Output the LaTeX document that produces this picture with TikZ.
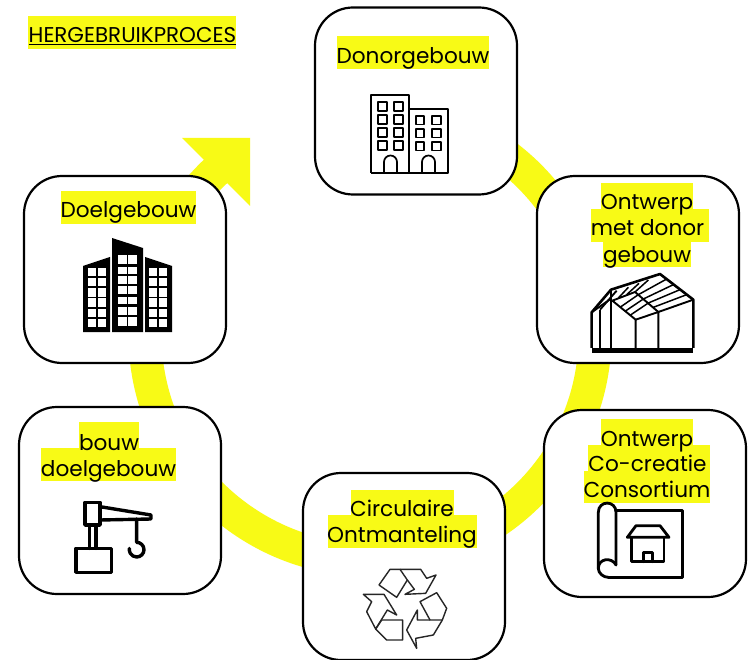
\documentclass[tikz,border=0pt]{standalone}
\usepackage{fontspec}
\setmainfont{Poppins}
\definecolor{hly}{HTML}{F8FA16}
\tikzset{
  stagebox/.style={draw=black,line width=2.2pt,fill=white,rounded corners=38pt,minimum width=202pt,minimum height=187pt,inner sep=0pt},
  lbl/.style={anchor=base,inner sep=0pt,text=black,font=\fontsize{21.6}{25}\selectfont},
  ttl/.style={anchor=base west,inner sep=0pt,text=black,font=\fontsize{21.4}{24}\selectfont},
  icon/.style={line width=1.7pt,draw=black,line join=round},
  iconb/.style={line width=2.8pt,draw=black,line join=round,line cap=round},
  craneb/.style={line width=3.4pt,draw=black,line join=round,line cap=round},
  rec/.style={line width=1.4pt,draw=black!85,line join=round},
}
\newcommand{\hlbar}[4]{\fill[hly] (#1,#2) rectangle (#3,#4);}
\begin{document}
\begin{tikzpicture}[x=1pt,y=-1pt]
\useasboundingbox (0,0) rectangle (752,660);
\fill[white] (0,0) rectangle (752,660);
% ring
\coordinate (ringstart) at (499.05,150.69);
\draw[hly,line width=33pt] (ringstart) arc[start angle=-55,end angle=227,radius=225];
\fill[hly] (182,138) -- (250,138) -- (250,206) -- (227,183) -- (203,159) -- cycle;
% boxes
\node[stagebox] (donor) at (416,101) {};
\node[stagebox] (ontwerpdonor) at (638,269.5) {};
\node[stagebox] (consortium) at (645,503.5) {};
\node[stagebox] (circulair) at (404,566.5) {};
\node[stagebox] (bouw) at (120,500.5) {};
\node[stagebox] (doel) at (125,269.5) {};
% highlights
\hlbar{28}{16}{236}{49}
\hlbar{337}{36}{489}{69}
\hlbar{61}{191}{196}{224}
\hlbar{601}{183}{693}{209}\hlbar{591}{209}{709}{242}\hlbar{603}{242}{691}{267}
\hlbar{601}{419}{693}{445}\hlbar{588}{445}{710}{471}\hlbar{584}{471}{710}{503}
\hlbar{351}{490}{454}{515}\hlbar{328}{515}{477}{548}
\hlbar{79}{422}{139}{448}\hlbar{41}{448}{176}{481}
% text
\node[ttl] (title) at (28.5,43) {\underline{HERGEBRUIKPROCES}};
\node[lbl] (t1) at (413,64) {Donorgebouw};
\node[lbl] (t2) at (128.5,218) {Doelgebouw};
\node[lbl] (t3a) at (647,210) {Ontwerp};
\node[lbl] (t3b) at (647.5,236) {met donor};
\node[lbl] (t3c) at (647,262) {gebouw};
\node[lbl] (t4a) at (647,446.5) {Ontwerp};
\node[lbl] (t4b) at (647.5,471.5) {Co-creatie};
\node[lbl] (t4c) at (647,497.5) {Consortium};
\node[lbl] (t5a) at (402,516.5) {Circulaire};
\node[lbl] (t5b) at (402,542.5) {Ontmanteling};
\node[lbl] (t6a) at (109,450) {bouw};
\node[lbl] (t6b) at (108.5,476) {doelgebouw};
% donor building icon
\begin{scope}[icon]
\draw (371,173) -- (371,95) -- (409,95) -- (409,173);
\draw (409,109) -- (448,109) -- (448,173) -- (371,173);
\foreach \y in {102,115,128,141}{
  \draw (378,\y) rectangle (387,\y+9);
  \draw (394,\y) rectangle (403,\y+9);}
\foreach \y in {116,129,142}{
  \draw (416,\y) rectangle (424,\y+8.5);
  \draw (432,\y) rectangle (441,\y+8.5);}
\draw (384,173) -- (384,162) arc[start angle=180,end angle=360,radius=6.5] -- (397,173);
\draw (422,173) -- (422,162) arc[start angle=180,end angle=360,radius=6.5] -- (435,173);
\end{scope}
% target building icon
\fill[black] (83,266) -- (110,257) -- (110,332) -- (83,332) -- cycle;
\fill[black] (112,238) -- (143,248) -- (143,332) -- (112,332) -- cycle;
\fill[black] (145,257) -- (172,266) -- (172,332) -- (145,332) -- cycle;
\foreach \a/\b in {268/276,278/286,288/297,298/307,309/317,319/327}{
  \fill[white] (88,\a) rectangle (96,\b);
  \fill[white] (98,\a) rectangle (106,\b);
  \fill[white] (149,\a) rectangle (157,\b);
  \fill[white] (159,\a) rectangle (167,\b);}
\foreach \a/\b in {255/264,267/274,276/284,286/294,297/304,307/315,317/326}{
  \fill[white] (118,\a) rectangle (127,\b);
  \fill[white] (128,\a) rectangle (137,\b);}
% greenhouse icon
\begin{scope}[shift={(585,268)},x=0.33333pt,y=-0.33333pt]
\fill[black] (20,240) rectangle (325,255);
\draw[line width=2.6pt,line join=round] (20,240) -- (20,133) -- (78,65) -- (225,18) -- (325,95) -- (325,240);
\draw[line width=2.8pt] (78,65) -- (78,240);
\draw[line width=1.9pt] (45,240) -- (45,125);
\draw[line width=1.9pt] (152,240) -- (152,155) -- (220,132) -- (220,240);
\draw[line width=1.9pt] (220,132) -- (325,95);
\draw[line width=1.9pt] (82,98) -- (152,155);
\draw[line width=1.9pt] (82,98) -- (150,72) -- (220,132);
\draw[line width=1.9pt] (20,133) -- (78,92);
\draw[line width=1.9pt] (45,125) -- (95,68);
\draw[line width=1.5pt] (205,118) -- (305,80) (190,105) -- (285,65) (175,93) -- (265,50) (160,80) -- (245,33);
\draw[line width=1.5pt] (135,142) -- (190,105) (120,130) -- (175,93) (105,118) -- (160,80);
\draw[line width=1.5pt] (100,90) -- (130,58) (125,80) -- (162,46) (150,72) -- (190,36);
\end{scope}
% blueprint icon
\begin{scope}[shift={(540,405)},x=0.33333pt,y=-0.33333pt]
\draw[iconb] (230,317) -- (427,317) -- (427,517) -- (205,517);
\draw[iconb] (228,480) -- (228,322) .. controls (228,285) and (175,285) .. (175,322) -- (175,490);
\draw[iconb] (228,480) .. controls (215,455) and (175,460) .. (175,490) .. controls (175,505) and (190,517) .. (205,517);
\draw[iconb] (262,397) -- (288,362) -- (360,362) -- (387,397) -- cycle;
\draw[iconb] (275,397) -- (275,470) -- (372,470) -- (372,397);
\draw[iconb] (310,470) -- (310,443) -- (338,443) -- (338,470);
\end{scope}
% recycle icon
\begin{scope}[shift={(355,560)},x=0.33333pt,y=-0.33333pt]
\draw[rec] (72,75) -- (105,28) -- (135,28) -- (157,60) -- (125,112) -- cycle;
\draw[rec] (135,28) -- (197,28) -- (215,55) -- (243,45) -- (212,100) -- (150,103) -- (178,88) -- (157,60);
\draw[rec] (195,125) -- (245,98) -- (275,145) -- (262,180) -- (225,180) -- cycle;
\draw[rec] (262,180) -- (235,225) -- (182,235) -- (185,265) -- (155,210) -- (187,150) -- (187,180) -- (225,180);
\draw[rec] (25,103) -- (87,103) -- (125,165) -- (97,150) -- (62,207) -- (35,155) -- (50,125) -- cycle;
\draw[rec] (80,180) -- (143,180) -- (143,240) -- (95,240) -- (62,207) -- cycle;
\end{scope}
% crane icon
\begin{scope}[shift={(70,495)},x=0.33333pt,y=-0.33333pt]
\draw[craneb] (45,22) rectangle (90,90);
\draw[craneb] (90,35) -- (243,60) -- (243,72) -- (90,75);
\draw[craneb] (58,90) -- (58,160) (78,90) -- (78,160);
\draw[craneb] (18,160) rectangle (125,232);
\draw[craneb] (200,72) -- (200,142) arc[start angle=-90,end angle=190,radius=22];
\end{scope}
\end{tikzpicture}
\end{document}
